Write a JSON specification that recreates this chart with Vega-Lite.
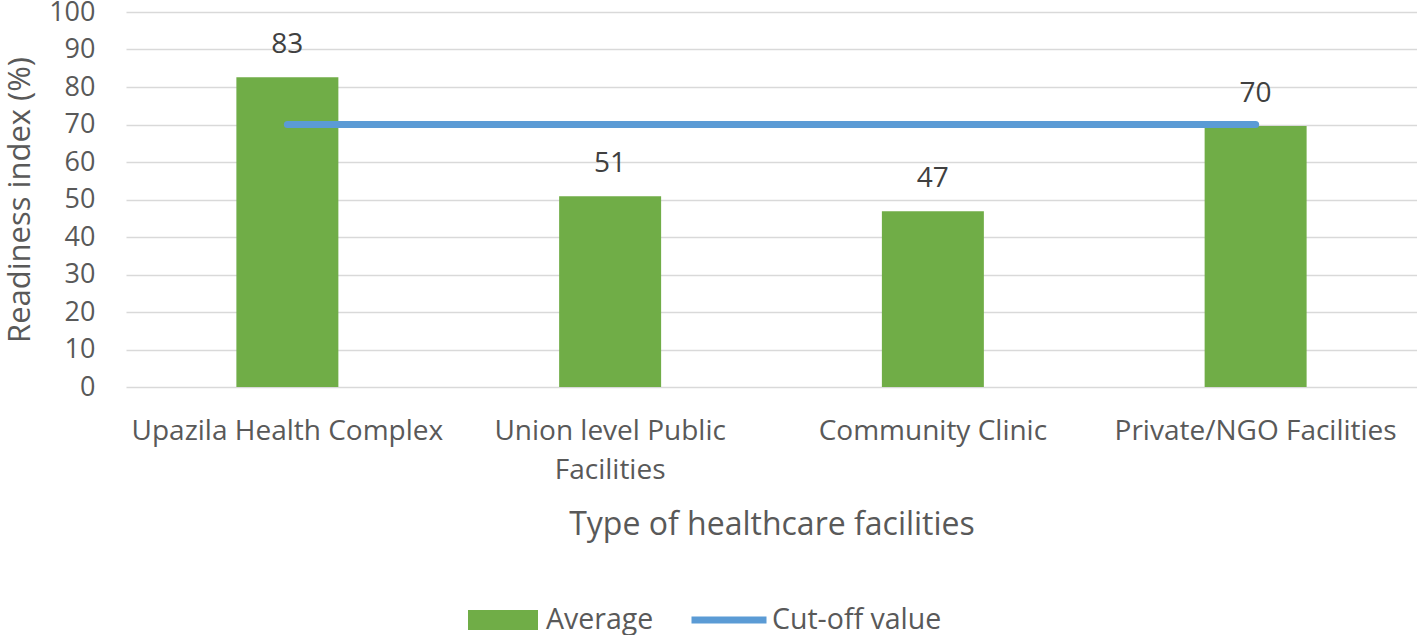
{
  "$schema": "https://vega.github.io/schema/vega-lite/v6.json",
  "width": 1291,
  "height": 375,
  "autosize": {"type": "none"},
  "padding": {"left": 126, "top": 12, "right": 0, "bottom": 248},
  "background": "white",
  "config": {
    "view": {"stroke": null},
    "font": "Open Sans",
    "axis": {"labelFont": "Open Sans", "titleFont": "Open Sans", "labelColor": "#595959", "titleColor": "#595959", "titleFontWeight": "normal"},
    "axisY": {
      "titleFontSize": 31,
      "titlePadding": 12,
      "labelFontSize": 27,
      "labelPadding": 31,
      "labelOverlap": false,
      "ticks": false,
      "domain": false,
      "gridColor": "#D9D9D9",
      "gridWidth": 1.5
    },
    "legend": {"labelFont": "Open Sans", "labelColor": "#595959", "labelFontSize": 28.5, "labelLimit": 0}
  },
  "data": {
    "values": [
      {"type": "Upazila Health Complex", "average": 82.6, "cutoff": 70},
      {"type": "Union level Public Facilities", "average": 50.9, "cutoff": 70},
      {"type": "Community Clinic", "average": 46.9, "cutoff": 70},
      {"type": "Private/NGO Facilities", "average": 69.6, "cutoff": 70}
    ]
  },
  "encoding": {
    "x": {
      "field": "type",
      "type": "nominal",
      "sort": null,
      "scale": {"paddingInner": 0.684, "paddingOuter": 0.342},
      "axis": {
        "title": "Type of healthcare facilities",
        "titleFontSize": 32,
        "titlePadding": 25,
        "labelAngle": 0,
        "labelFontSize": 28,
        "labelPadding": 30,
        "labelLineHeight": 39,
        "labelOverlap": false,
        "labelLimit": 0,
        "ticks": false,
        "domain": false,
        "labelExpr": "datum.label == 'Union level Public Facilities' ? ['Union level Public', 'Facilities'] : datum.label"
      }
    }
  },
  "layer": [
    {
      "mark": {"type": "bar", "color": "#70AD47"},
      "encoding": {
        "y": {
          "field": "average",
          "type": "quantitative",
          "scale": {"domain": [0, 100]},
          "axis": {"title": "Readiness index (%)", "values": [0, 10, 20, 30, 40, 50, 60, 70, 80, 90, 100]}
        },
        "color": {
          "datum": "Average",
          "type": "nominal",
          "scale": {"domain": ["Average"], "range": ["#70AD47"]},
          "legend": {
            "title": null,
            "orient": "none",
            "legendX": 342,
            "legendY": 573,
            "symbolType": "M-1,-0.286H1V0.286H-1Z",
            "symbolSize": 4900,
            "symbolStrokeWidth": 0,
            "labelOffset": 8,
            "labelLimit": 0
          }
        }
      }
    },
    {
      "mark": {"type": "text", "baseline": "middle", "dy": -32, "fontSize": 28, "color": "#404040", "font": "Open Sans"},
      "encoding": {
        "y": {
          "field": "average",
          "type": "quantitative",
          "axis": {"title": "Readiness index (%)", "values": [0, 10, 20, 30, 40, 50, 60, 70, 80, 90, 100]}
        },
        "text": {"field": "average", "type": "quantitative", "format": ".0f"}
      }
    },
    {
      "mark": {"type": "line", "strokeWidth": 7, "strokeCap": "round"},
      "encoding": {
        "y": {
          "field": "cutoff",
          "type": "quantitative",
          "axis": {"title": "Readiness index (%)", "values": [0, 10, 20, 30, 40, 50, 60, 70, 80, 90, 100]}
        },
        "stroke": {
          "datum": "Cut-off value",
          "type": "nominal",
          "scale": {"domain": ["Cut-off value"], "range": ["#5B9BD5"]},
          "legend": {
            "title": null,
            "orient": "none",
            "legendX": 562,
            "legendY": 567,
            "symbolType": "stroke",
            "symbolSize": 5625,
            "symbolStrokeWidth": 7,
            "labelOffset": 2,
            "labelLimit": 0
          }
        }
      }
    }
  ],
  "resolve": {"scale": {"color": "independent", "stroke": "independent"}, "legend": {"color": "independent", "stroke": "independent"}}
}
